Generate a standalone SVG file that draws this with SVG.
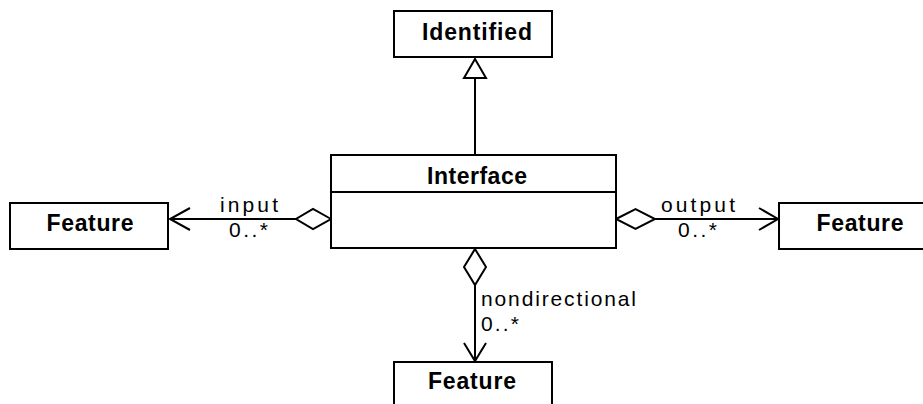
<svg xmlns="http://www.w3.org/2000/svg" width="923" height="404" viewBox="0 0 923 404">
<style>
.box{fill:#fff;stroke:#000;stroke-width:2}
.ln{fill:none;stroke:#000;stroke-width:2}
.hd{fill:#fff;stroke:#000;stroke-width:2;stroke-linejoin:miter}
.b{font-family:"Liberation Sans",Arial,sans-serif;font-weight:bold;font-size:23px;fill:#000;text-anchor:middle}
.t{font-family:"Liberation Sans",Arial,sans-serif;font-size:21px;fill:#000}
</style>
<rect width="923" height="404" fill="#fff"/>
<g id="connectors">
<line class="ln" x1="475" y1="155" x2="475" y2="78"/>
<polygon class="hd" points="475,59 486,78 464,78"/>
<line class="ln" x1="296" y1="219" x2="170" y2="219"/>
<polyline class="ln" points="190,208 170,219 190,230"/>
<polygon class="hd" points="331,219 313,209 296,219 313,229"/>
<line class="ln" x1="655" y1="219" x2="778" y2="219"/>
<polyline class="ln" points="759,208 778,219 759,230"/>
<polygon class="hd" points="616,219 635.5,209 655,219 635.5,229"/>
<line class="ln" x1="475" y1="285" x2="475" y2="361"/>
<polyline class="ln" points="464,343 475,361 486,343"/>
<polygon class="hd" points="475,249 486,267 475,285 464,267"/>
<text class="t" x="220" y="212" textLength="58" lengthAdjust="spacing">input</text>
<text class="t" x="229" y="237" textLength="39" lengthAdjust="spacing">0..*</text>
<text class="t" x="661" y="212" textLength="74" lengthAdjust="spacing">output</text>
<text class="t" x="678" y="237" textLength="39" lengthAdjust="spacing">0..*</text>
<text class="t" x="481" y="306" textLength="155" lengthAdjust="spacing">nondirectional</text>
<text class="t" x="481" y="331" textLength="38" lengthAdjust="spacing">0..*</text>
</g>
<g id="identified">
<rect class="box" x="394" y="11" width="158" height="46"/>
<text class="b" x="477" y="40" textLength="110" lengthAdjust="spacing">Identified</text>
</g>
<g id="interface">
<rect class="box" x="331" y="155" width="285" height="93"/>
<line class="ln" x1="331" y1="192" x2="616" y2="192"/>
<text class="b" x="477" y="184" textLength="100" lengthAdjust="spacing">Interface</text>
</g>
<g id="feature-input">
<rect class="box" x="10" y="203" width="158" height="46"/>
<text class="b" x="90" y="231" textLength="87" lengthAdjust="spacing">Feature</text>
</g>
<g id="feature-output">
<rect class="box" x="779" y="203" width="158" height="46"/>
<text class="b" x="860" y="231" textLength="87" lengthAdjust="spacing">Feature</text>
</g>
<g id="feature-nondirectional">
<rect class="box" x="394" y="362" width="158" height="46"/>
<text class="b" x="472" y="389" textLength="88" lengthAdjust="spacing">Feature</text>
</g>
</svg>
